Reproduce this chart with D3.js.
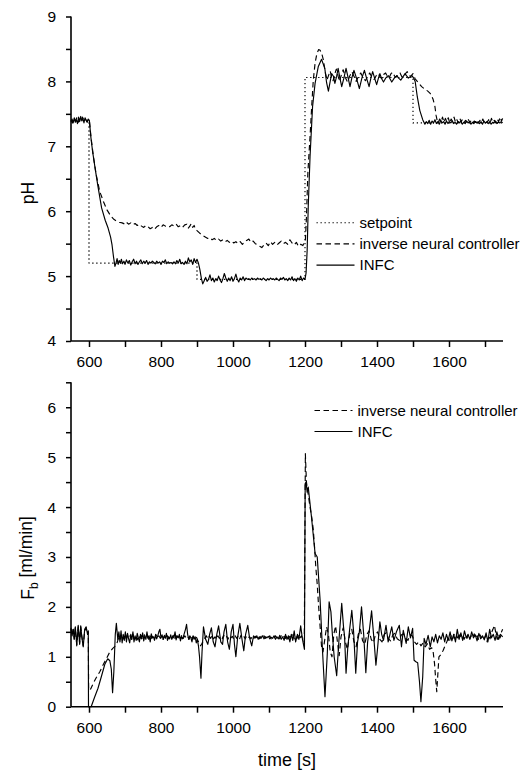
<!DOCTYPE html>
<html><head><meta charset="utf-8">
<script src="https://cdn.jsdelivr.net/npm/d3@7"></script>
<style>
body{margin:0;background:#fff;}
svg{display:block;}
text{font-family:Arial,"Liberation Sans",sans-serif;fill:#000;}
</style></head>
<body>
<svg id="c" width="530" height="776"></svg>
<script>
// ---------- DATA ----------
const xTicks = [600, 800, 1000, 1200, 1400, 1600];
const xMinor = [700, 900, 1100, 1300, 1500, 1700];
const phTicks = [4, 5, 6, 7, 8, 9];
const phMinor = [4.5, 5.5, 6.5, 7.5, 8.5];
const fbTicks = [0, 1, 2, 3, 4, 5, 6];
const fbMinor = [0.5, 1.5, 2.5, 3.5, 4.5, 5.5, 6.5];
const topLegend = ["setpoint", "inverse neural controller", "INFC"];
const bottomLegend = ["inverse neural controller", "INFC"];

// pH setpoint [time, pH]
const phSetpoint = [[550,7.40],[600,7.40],[600,5.20],[900,5.20],[900,4.95],[1200,4.95],[1200,8.06],[1500,8.06],[1500,7.36],[1750,7.36]];

// pH, inverse neural controller [time, pH]
const phINC = [[550,7.40],[554,7.36],[558,7.43],[562,7.39],[566,7.44],[570,7.37],[574,7.42],[578,7.38],[582,7.45],[586,7.39],[590,7.42],[594,7.38],[598,7.41],[601,7.40],
[606,7.12],[612,6.85],[620,6.56],[630,6.30],[640,6.15],[650,6.02],[660,5.93],[668,5.88],[676,5.85],[684,5.83],[692,5.82],[700,5.80],
[704,5.83],[710,5.80],[716,5.82],[722,5.79],[728,5.81],[734,5.78],[740,5.80],[746,5.77],[752,5.75],[758,5.78],[764,5.76],[770,5.73],[776,5.75],[782,5.72],[788,5.76],[794,5.78],[800,5.75],[806,5.79],[812,5.77],[818,5.78],[824,5.76],[830,5.79],[836,5.77],[842,5.80],[848,5.76],[854,5.78],[860,5.75],[866,5.79],[872,5.80],[876,5.74],[880,5.77],[884,5.81],[888,5.75],[892,5.78],[896,5.72],
[900,5.70],[906,5.67],[912,5.64],[918,5.62],[924,5.60],[930,5.58],[936,5.59],[942,5.56],[948,5.58],[954,5.55],[960,5.57],[966,5.54],[972,5.56],[978,5.53],[984,5.55],[990,5.52],[996,5.54],[1002,5.51],[1008,5.53],[1014,5.50],[1020,5.53],[1026,5.49],[1032,5.52],[1038,5.55],[1044,5.57],[1050,5.52],[1056,5.54],[1062,5.50],[1068,5.48],[1074,5.46],[1080,5.44],[1086,5.48],[1092,5.51],[1098,5.47],[1104,5.53],[1110,5.49],[1116,5.52],[1122,5.48],[1128,5.51],[1134,5.54],[1140,5.50],[1146,5.52],[1152,5.49],[1158,5.56],[1164,5.51],[1170,5.48],[1176,5.52],[1182,5.46],[1188,5.49],[1194,5.47],[1198,5.52],[1201,5.55],
[1204,5.90],[1208,6.60],[1214,7.15],[1219,7.65],[1223,8.02],[1228,8.28],[1233,8.43],[1238,8.49],[1242,8.48],[1247,8.42],[1251,8.33],[1256,8.15],[1261,8.02],
[1266,8.10],[1270,8.16],[1274,8.06],[1278,8.01],[1283,8.12],[1287,8.19],[1292,8.08],[1296,8.00],[1301,8.10],[1306,8.18],[1312,8.06],[1318,7.99],[1324,8.08],[1330,8.15],[1336,8.08],[1342,8.00],[1348,8.07],[1355,8.13],[1361,8.06],[1368,8.01],[1374,8.08],[1380,8.13],[1386,8.06],[1392,8.03],[1398,8.09],[1404,8.12],[1409,8.06],[1414,8.05],[1419,8.11],[1424,8.13],[1429,8.07],[1434,8.06],[1439,8.12],[1444,8.14],[1449,8.08],[1454,8.07],[1459,8.12],[1464,8.13],[1469,8.07],[1474,8.06],[1479,8.12],[1484,8.15],[1489,8.09],[1494,8.08],[1500,8.12],[1506,8.04],
[1515,7.98],[1524,7.92],[1533,7.88],[1541,7.85],[1547,7.82],[1551,7.79],[1556,7.72],[1561,7.61],[1564,7.48],[1567,7.40],[1570,7.36],
[1574,7.42],[1578,7.38],[1582,7.45],[1586,7.37],[1590,7.43],[1594,7.38],[1598,7.44],[1602,7.36],[1606,7.42],[1610,7.38],[1614,7.45],[1618,7.37],[1622,7.41],[1626,7.36],[1630,7.43],[1634,7.38],[1638,7.42],[1642,7.37],[1646,7.40],[1650,7.36],[1654,7.41],[1658,7.37],[1662,7.40],[1666,7.36],[1670,7.39],[1674,7.37],[1678,7.41],[1682,7.36],[1686,7.40],[1690,7.37],[1694,7.42],[1698,7.36],[1702,7.39],[1706,7.37],[1710,7.41],[1714,7.36],[1718,7.43],[1722,7.37],[1726,7.40],[1730,7.36],[1734,7.42],[1738,7.38],[1742,7.45],[1746,7.39],[1749,7.43]];

// pH, INFC [time, pH]
const phINFC = [[550,7.38],[553,7.42],[556,7.36],[559,7.44],[562,7.37],[565,7.41],[568,7.35],[571,7.45],[574,7.38],[577,7.46],[580,7.39],[583,7.43],[586,7.36],[589,7.44],[592,7.40],[595,7.37],[598,7.42],[601,7.40],
[605,7.15],[610,6.92],[617,6.66],[625,6.38],[635,6.05],[645,5.86],[653,5.74],[660,5.60],[664,5.48],[668,5.30],[672,5.15],
[675,5.20],[678,5.27],[681,5.18],[684,5.24],[687,5.20],[690,5.26],[693,5.19],[697,5.23],[700,5.18],[704,5.25],[708,5.20],[712,5.24],[716,5.17],[720,5.22],[724,5.26],[728,5.19],[732,5.23],[736,5.18],[740,5.22],[744,5.25],[748,5.19],[752,5.23],[756,5.20],[760,5.24],[764,5.18],[768,5.22],[772,5.20],[776,5.23],[780,5.21],[784,5.19],[788,5.23],[792,5.20],[796,5.22],[800,5.18],[804,5.23],[808,5.21],[812,5.25],[816,5.19],[820,5.22],[824,5.20],[828,5.21],[832,5.19],[836,5.22],[840,5.19],[844,5.24],[848,5.20],[852,5.26],[856,5.19],[860,5.21],[864,5.18],[868,5.23],[872,5.19],[876,5.28],[880,5.22],[884,5.25],[888,5.18],[892,5.27],[896,5.21],[900,5.26],[904,5.20],
[908,5.10],[912,4.97],[916,4.88],[920,4.93],[924,4.98],[928,4.92],[932,4.95],[936,5.02],[940,4.93],[944,4.97],[948,4.91],[952,4.96],[956,4.93],[960,5.00],[964,4.94],[968,4.90],[972,4.96],[976,5.04],[980,4.97],[984,4.92],[988,4.97],[992,4.93],[996,4.99],[1000,4.92],[1004,4.96],[1008,5.03],[1012,4.95],[1016,4.91],[1020,4.97],[1024,4.94],[1028,4.99],[1032,4.93],[1036,4.97],[1040,4.95],[1044,4.96],[1048,4.94],[1052,4.97],[1056,4.95],[1060,4.96],[1064,4.94],[1068,4.97],[1072,4.95],[1076,4.96],[1080,4.94],[1084,4.97],[1088,4.95],[1092,4.93],[1096,4.96],[1100,4.94],[1104,4.97],[1108,4.95],[1112,4.96],[1116,4.94],[1120,4.97],[1124,4.95],[1128,4.93],[1132,4.97],[1136,4.95],[1140,4.98],[1144,4.94],[1148,4.96],[1152,4.93],[1156,4.97],[1160,4.94],[1164,4.99],[1168,4.93],[1172,4.96],[1176,4.92],[1180,4.97],[1184,4.94],[1188,5.00],[1192,4.93],[1196,4.97],[1200,4.95],
[1203,5.05],[1206,5.40],[1209,6.07],[1214,6.84],[1221,7.61],[1228,7.97],[1237,8.23],[1246,8.34],[1255,8.20],[1260,7.98],[1265,7.85],[1270,8.00],[1274,8.12],[1279,8.08],[1283,7.97],[1288,8.08],[1292,8.20],[1297,8.05],[1302,7.92],[1308,8.05],[1314,8.20],[1320,8.05],[1325,7.92],[1330,8.05],[1336,8.17],[1343,8.05],[1351,7.89],[1358,8.05],[1365,8.17],[1371,8.05],[1378,7.92],[1383,8.05],[1388,8.15],[1394,8.04],[1399,7.95],[1404,8.05],[1408,8.12],[1413,8.04],[1418,7.99],[1424,8.05],[1431,8.09],[1436,8.04],[1441,7.99],[1448,8.05],[1455,8.09],[1460,8.05],[1466,8.02],[1472,8.07],[1478,8.12],[1483,8.08],[1487,8.05],[1492,8.07],[1497,8.09],[1502,8.05],[1506,8.00],
[1512,7.76],[1519,7.55],[1527,7.41],[1533,7.34],[1537,7.38],[1541,7.35],[1545,7.40],[1549,7.34],[1553,7.39],[1557,7.36],[1561,7.41],[1565,7.35],[1569,7.38],[1573,7.34],[1577,7.40],[1581,7.36],[1585,7.38],[1589,7.34],[1593,7.39],[1597,7.35],[1601,7.38],[1605,7.36],[1609,7.39],[1613,7.35],[1617,7.37],[1621,7.34],[1625,7.38],[1629,7.36],[1633,7.39],[1637,7.34],[1641,7.37],[1645,7.35],[1649,7.39],[1653,7.36],[1657,7.38],[1661,7.34],[1665,7.37],[1669,7.35],[1673,7.38],[1677,7.36],[1681,7.37],[1685,7.35],[1689,7.38],[1693,7.34],[1697,7.39],[1701,7.36],[1705,7.37],[1709,7.35],[1713,7.38],[1717,7.34],[1721,7.37],[1725,7.36],[1729,7.39],[1733,7.35],[1737,7.37],[1741,7.36],[1745,7.38],[1749,7.36]];

// Fb, inverse neural controller [time, ml/min]
const fbINC = [[550,1.56],[553,1.44],[556,1.55],[559,1.36],[562,1.58],[566,1.24],[570,1.6],[574,1.27],[577,1.6],[580,1.42],[584,1.22],[588,1.52],[592,1.58],[596,1.45],[598,1.5],[599,0.33],
[605,0.36],[612,0.47],[620,0.58],[630,0.70],[640,0.85],[649,0.97],[658,1.10],[666,1.17],[672,1.21],[678,1.28],
[682,1.38],[686,1.33],[690,1.43],[694,1.35],[698,1.41],[702,1.34],[706,1.44],[710,1.37],[714,1.42],[718,1.35],[722,1.45],[726,1.36],[730,1.41],[734,1.34],[738,1.43],[742,1.37],[746,1.42],[750,1.35],[754,1.44],[758,1.38],[762,1.41],[766,1.35],[770,1.43],[774,1.37],[778,1.42],[782,1.36],[786,1.44],[790,1.38],[794,1.42],[798,1.37],[802,1.41],[806,1.35],[810,1.43],[814,1.38],[818,1.42],[822,1.36],[826,1.41],[830,1.37],[834,1.43],[838,1.35],[842,1.42],[846,1.38],[850,1.41],[854,1.36],[858,1.44],[862,1.37],[866,1.42],[870,1.38],[874,1.41],[878,1.35],[882,1.43],[886,1.37],[890,1.41],[894,1.36],[898,1.40],[902,1.33],[906,1.28],[910,1.22],[914,1.27],[918,1.33],[922,1.38],[926,1.42],[930,1.36],[934,1.41],[938,1.37],[942,1.43],[946,1.36],[950,1.40],[954,1.35],[958,1.42],[962,1.37],[966,1.41],[970,1.36],[974,1.43],[978,1.38],[982,1.41],[986,1.35],[990,1.42],[994,1.38],[998,1.41],[1002,1.36],[1006,1.42],[1010,1.37],[1014,1.41],[1018,1.35],[1022,1.43],[1026,1.38],[1030,1.41],[1034,1.36],[1038,1.42],[1042,1.38],[1046,1.40],[1050,1.36],[1054,1.42],[1058,1.37],[1062,1.41],[1066,1.38],[1070,1.42],[1074,1.36],[1078,1.41],[1082,1.38],[1086,1.42],[1090,1.37],[1094,1.41],[1098,1.38],[1102,1.42],[1106,1.36],[1110,1.40],[1114,1.38],[1118,1.42],[1122,1.37],[1126,1.41],[1130,1.36],[1134,1.42],[1138,1.38],[1142,1.41],[1146,1.37],[1150,1.43],[1154,1.36],[1158,1.41],[1162,1.38],[1166,1.44],[1170,1.36],[1174,1.42],[1178,1.37],[1182,1.45],[1186,1.38],[1190,1.42],[1194,1.35],[1198,1.30],
[1201,5.07],[1204,4.50],[1209,4.25],[1214,4.00],[1219,3.78],[1223,3.55],[1227,3.15],[1230,2.80],[1234,2.45],[1237,2.10],[1242,1.60],[1246,1.20],[1250,1.10],[1255,1.35],[1260,1.60],[1265,1.45],[1270,1.10],[1275,1.00],[1280,1.45],[1285,1.62],[1290,1.30],[1295,1.02],[1300,1.40],[1306,1.58],[1312,1.30],[1318,1.15],[1324,1.45],[1330,1.55],[1336,1.30],[1342,1.20],[1348,1.45],[1354,1.55],[1360,1.32],[1366,1.25],[1372,1.45],[1378,1.52],[1384,1.35],[1390,1.28],[1396,1.45],[1402,1.50],[1408,1.35],[1414,1.30],[1420,1.45],[1426,1.48],[1432,1.36],[1438,1.32],[1444,1.44],[1450,1.47],[1456,1.36],[1462,1.33],[1468,1.44],[1474,1.46],[1480,1.36],[1486,1.33],[1492,1.44],[1498,1.42],[1504,1.30],[1510,1.25],[1516,1.30],[1522,1.22],[1528,1.28],[1534,1.20],[1540,1.26],[1546,1.15],[1552,1.18],[1556,1.10],[1560,0.85],[1563,0.55],[1566,0.30],[1569,0.65],[1572,1.00],[1578,1.05],[1584,1.13],[1589,1.22],[1594,1.30],
[1598,1.38],[1602,1.33],[1606,1.42],[1610,1.35],[1614,1.45],[1618,1.37],[1622,1.42],[1626,1.34],[1630,1.44],[1634,1.38],[1638,1.41],[1642,1.35],[1646,1.43],[1650,1.37],[1654,1.45],[1658,1.36],[1662,1.42],[1666,1.38],[1670,1.46],[1674,1.37],[1678,1.42],[1682,1.35],[1686,1.44],[1690,1.38],[1694,1.41],[1698,1.36],[1702,1.43],[1706,1.30],[1710,1.42],[1714,1.36],[1718,1.48],[1722,1.55],[1726,1.63],[1730,1.48],[1734,1.35],[1738,1.45],[1742,1.38],[1746,1.50],[1749,1.55]];

// Fb, INFC [time, ml/min]
const fbINFC = [[550,1.58],[553,1.42],[556,1.55],[559,1.35],[562,1.6],[566,1.22],[570,1.63],[574,1.25],[577,1.62],[580,1.4],[584,1.2],[588,1.55],[592,1.6],[596,1.45],[598,1.52],[598.6,0.0],
[606,0.0],[615,0.18],[625,0.37],[635,0.62],[644,0.85],[652,0.96],[658,0.92],[662,0.75],[665.5,0.28],[669,0.70],[673,1.45],[676,1.67],[680,1.35],
[683,1.50],[686,1.30],[689,1.52],[692,1.28],[695,1.45],[698,1.33],[701,1.50],[704,1.30],[707,1.47],[710,1.36],[713,1.28],[716,1.45],[719,1.35],[722,1.50],[725,1.30],[728,1.42],[731,1.33],[734,1.47],[737,1.38],[740,1.30],[743,1.45],[746,1.36],[749,1.48],[752,1.32],[755,1.42],[758,1.35],[761,1.50],[764,1.37],[767,1.42],[770,1.30],[773,1.46],[776,1.38],[779,1.40],[782,1.33],[785,1.45],[788,1.36],[791,1.42],[794,1.50],[797,1.55],[800,1.38],[803,1.44],[806,1.35],[809,1.42],[812,1.37],[815,1.47],[818,1.33],[821,1.40],[824,1.36],[827,1.44],[830,1.35],[833,1.41],[836,1.38],[839,1.50],[842,1.34],[845,1.42],[848,1.38],[851,1.45],[854,1.32],[857,1.40],[860,1.36],[864,1.45],[868,1.55],[871,1.65],[874,1.45],[877,1.35],[880,1.42],[883,1.38],[886,1.30],[889,1.42],[892,1.35],[895,1.40],[898,1.28],[901,1.35],[904,1.22],[907,1.00],[911,0.57],[914,1.10],
[918,1.60],[924,1.35],[930,1.25],[935,1.45],[940,1.58],[945,1.30],[950,1.20],[955,1.45],[960,1.62],[966,1.30],[971,1.25],[975,1.50],[980,1.65],[985,1.30],[990,1.15],[995,1.50],[1000,1.65],[1004,1.25],[1008,1.00],[1013,1.40],[1019,1.67],[1025,1.35],[1030,1.12],[1035,1.45],[1041,1.63],[1046,1.38],[1052,1.22],[1057,1.42],
[1062,1.38],[1066,1.42],[1070,1.35],[1074,1.40],[1078,1.37],[1082,1.42],[1086,1.36],[1090,1.40],[1094,1.38],[1098,1.41],[1102,1.36],[1106,1.39],[1110,1.37],[1114,1.42],[1118,1.35],[1122,1.40],[1126,1.36],[1130,1.43],[1134,1.35],[1138,1.40],[1142,1.33],[1146,1.45],[1150,1.35],[1154,1.42],[1158,1.30],[1162,1.45],[1166,1.33],[1170,1.52],[1174,1.30],[1179,1.45],[1183,1.35],[1188,1.62],[1193,1.35],[1198.5,1.15],
[1200.5,4.47],[1203,4.50],[1206,4.30],[1209,4.40],[1218,3.80],[1228,3.07],[1234,3.00],[1242,2.13],[1249,1.07],[1255.5,0.20],[1262,1.07],[1267,2.10],[1272,1.90],[1276,1.45],[1281,1.00],[1288,0.62],[1294,1.30],[1302,2.07],[1307,1.60],[1310,1.40],[1314,0.67],[1319,1.20],[1324,1.55],[1330,1.93],[1335,1.50],[1341,0.67],[1346,1.30],[1351,1.50],[1357,2.00],[1363,1.45],[1369,0.68],[1374,1.30],[1379,1.55],[1385,1.92],[1391,1.40],[1397,0.83],[1402,1.20],[1408,1.70],[1413,1.45],[1418,1.33],[1425,1.63],[1431,1.30],[1436,1.45],[1441,1.60],[1447,1.33],[1454,1.50],[1462,1.63],[1468,1.20],[1473,1.53],[1481,1.27],[1487,1.60],[1493,1.38],[1499,1.57],
[1503,0.93],[1508,0.90],[1513,0.88],[1518,0.50],[1522,0.10],[1527,0.60],[1531,1.37],[1536,1.25],[1542,1.43],[1548,1.20],[1553,1.40],[1558,1.30],[1563,1.45],[1568,1.28],[1573,1.42],[1578,1.35],[1583,1.48],[1588,1.30],[1593,1.45],[1598,1.33],[1603,1.50],[1608,1.32],[1613,1.45],[1618,1.30],[1623,1.55],[1628,1.35],[1633,1.48],[1638,1.33],[1643,1.52],[1648,1.38],[1653,1.45],[1658,1.35],[1663,1.50],[1668,1.38],[1673,1.44],[1678,1.32],[1683,1.47],[1688,1.36],[1693,1.42],[1698,1.34],[1703,1.48],[1708,1.30],[1713,1.55],[1718,1.38],[1723,1.45],[1728,1.33],[1733,1.50],[1738,1.35],[1743,1.45],[1749,1.40]];

// ---------- DRAW ----------
const svg = d3.select("#c");
const X0 = 71, X1 = 503;
const x = d3.scaleLinear().domain([550, 1750]).range([X0, X1]);
const yTop = d3.scaleLinear().domain([4, 9]).range([341, 16.5]);
const yBot = d3.scaleLinear().domain([0, 6.5]).range([706.7, 382.3]);

const FS = 15.5;
function drawAxes(y, ticks, minor, yBase) {
  const gx = svg.append("g").attr("transform", `translate(0,${yBase})`);
  gx.call(d3.axisBottom(x).tickValues(xTicks).tickSize(6).tickPadding(9).tickFormat(d3.format("d")));
  const gxm = svg.append("g").attr("transform", `translate(0,${yBase})`);
  gxm.call(d3.axisBottom(x).tickValues(xMinor).tickSize(6).tickFormat(""));
  gxm.select(".domain").remove();
  const gy = svg.append("g").attr("transform", `translate(${X0},0)`);
  gy.call(d3.axisLeft(y).tickValues(ticks).tickSize(5).tickPadding(10).tickFormat(d3.format("d")));
  const gym = svg.append("g").attr("transform", `translate(${X0},0)`);
  gym.call(d3.axisLeft(y).tickValues(minor).tickSize(5).tickFormat(""));
  gym.select(".domain").remove();
  [gx, gxm, gy, gym].forEach(g => {
    g.selectAll("path.domain").attr("stroke", "#000").attr("stroke-width", 1.6).attr("d", null);
    g.selectAll(".tick line").attr("stroke", "#000").attr("stroke-width", 1.5);
    g.selectAll(".tick text").style("font-size", FS + "px").attr("font-family", "Arial, 'Liberation Sans', sans-serif").attr("fill", "#000");
  });
  // axis lines drawn explicitly (no end caps)
  svg.append("line").attr("x1", X0).attr("x2", X1).attr("y1", yBase).attr("y2", yBase).attr("stroke", "#000").attr("stroke-width", 1.6);
  svg.append("line").attr("x1", X0).attr("x2", X0).attr("y1", y.range()[1]).attr("y2", yBase).attr("stroke", "#000").attr("stroke-width", 1.6);
  gx.select(".domain").remove();
  gy.select(".domain").remove();
}
drawAxes(yTop, phTicks, phMinor, 341);
drawAxes(yBot, fbTicks, fbMinor, 706.7);

const styles = {
  dot: "1.3,2.7",
  dash: "5.5,3.5",
  solid: null
};
function drawLine(data, y, dash) {
  const line = d3.line().x(d => x(d[0])).y(d => y(d[1]));
  svg.append("path").datum(data).attr("d", line).attr("fill", "none")
    .attr("stroke", "#000").attr("stroke-width", 1.15)
    .attr("stroke-dasharray", dash).attr("stroke-linejoin", "round");
}
drawLine(phSetpoint, yTop, styles.dot);
drawLine(phINC, yTop, styles.dash);
drawLine(phINFC, yTop, styles.solid);
drawLine(fbINC, yBot, styles.dash);
drawLine(fbINFC, yBot, styles.solid);

// legends
function legend(items, dashes, lx, ly, dy) {
  items.forEach((lab, i) => {
    const yy = ly + i * dy;
    svg.append("line").attr("x1", lx).attr("x2", lx + 38).attr("y1", yy).attr("y2", yy)
      .attr("stroke", "#000").attr("stroke-width", 1.15).attr("stroke-dasharray", dashes[i]);
    svg.append("text").attr("x", lx + 43).attr("y", yy).attr("dy", "0.35em")
      .style("font-size", "15px").text(lab);
  });
}
legend(topLegend, [styles.dot, styles.dash, styles.solid], 316.5, 222.7, 21.2);
legend(bottomLegend, [styles.dash, styles.solid], 314.5, 410.5, 21);

// axis titles
svg.append("text").attr("transform", "translate(34,193) rotate(-90)").attr("text-anchor", "middle")
  .style("font-size", "17.5px").text("pH");
const fl = svg.append("text").attr("transform", "translate(34,558) rotate(-90)").attr("text-anchor", "middle")
  .style("font-size", "17.5px");
fl.append("tspan").text("F");
fl.append("tspan").attr("dy", "0.3em").style("font-size", "12px").text("b");
fl.append("tspan").attr("dy", "-0.3em").text(" [ml/min]");
svg.append("text").attr("x", (X0 + X1) / 2).attr("y", 766).attr("text-anchor", "middle")
  .style("font-size", "18px").text("time [s]");
</script>
</body></html>
